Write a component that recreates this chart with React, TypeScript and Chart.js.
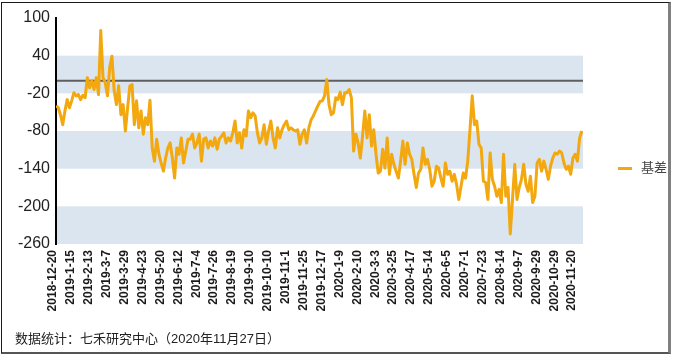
import React, { useEffect, useRef } from 'react';
import { Chart, registerables } from 'chart.js';

Chart.register(...registerables);

// Tick labels on the x axis (one every POINTS_PER_TICK samples)
const tickLabels = [
  '2018-12-20', '2019-1-15', '2019-2-13', '2019-3-7', '2019-3-29', '2019-4-23',
  '2019-5-20', '2019-6-12', '2019-7-4', '2019-7-26', '2019-8-19', '2019-9-10',
  '2019-10-10', '2019-11-1', '2019-11-25', '2019-12-17', '2020-1-9', '2020-2-10',
  '2020-3-3', '2020-3-25', '2020-4-17', '2020-5-14', '2020-6-5', '2020-7-1',
  '2020-7-23', '2020-8-14', '2020-9-7', '2020-9-29', '2020-10-29', '2020-11-20',
];
const POINTS_PER_TICK = 8;

// 基差 series (sampled roughly every two trading days)
const basis = [
  -40, -43, -54, -70, -48, -30, -43, -32, -19, -24,
  -22, -30, -23, -27, 5, -11, 0, -14, 5, -22,
  80, 5, -3, -24, 21, 39, -16, -38, -8, -54,
  -38, -80, -43, -8, -6, -70, -32, -75, -48, -85,
  -59, -70, -31, -107, -128, -93, -117, -131, -144, -123,
  -107, -99, -123, -155, -107, -117, -91, -131, -112, -93,
  -93, -85, -107, -99, -85, -128, -93, -91, -107, -96,
  -104, -91, -109, -93, -88, -83, -99, -91, -96, -83,
  -64, -99, -83, -107, -78, -88, -48, -59, -51, -56,
  -83, -99, -91, -70, -101, -80, -64, -91, -107, -75,
  -91, -78, -70, -64, -78, -75, -78, -80, -78, -101,
  -85, -78, -99, -75, -62, -56, -48, -40, -33, -32,
  -24, 2, -38, -54, -51, -27, -30, -18, -38, -19,
  -19, -14, -27, -112, -85, -99, -123, -88, -48, -91,
  -54, -104, -78, -117, -147, -144, -109, -139, -91, -149,
  -117, -133, -144, -155, -128, -96, -133, -99, -117, -125,
  -149, -170, -147, -141, -107, -133, -125, -141, -168, -160,
  -136, -139, -155, -168, -131, -149, -144, -160, -149, -165,
  -189, -168, -147, -155, -128, -78, -24, -70, -64, -101,
  -107, -160, -162, -189, -115, -157, -168, -184, -173, -194,
  -117, -184, -170, -244, -189, -133, -189, -170, -157, -133,
  -165, -176, -152, -194, -184, -131, -125, -144, -128, -141,
  -157, -136, -123, -115, -117, -112, -115, -131, -141, -136,
  -149, -123, -117, -128, -91, -80,
];

const yTicks = [100, 40, -20, -80, -140, -200, -260];
const bandRanges: [number, number][] = [[40, -20], [-80, -140], [-200, -260]];
const seriesName = '基差';
const footerText = '数据统计：七禾研究中心（2020年11月27日）';

const LINE_COLOR = '#F2A80E';
const BAND_COLOR = '#DAE5F0';
const FONT = '"Liberation Sans", Arial, "Noto Sans CJK SC", sans-serif';

const bandPlugin = {
  id: 'bands',
  beforeDraw(chart: any) {
    const { ctx, chartArea, scales } = chart;
    const y = scales.y;
    ctx.save();
    ctx.fillStyle = BAND_COLOR;
    for (const [a, b] of bandRanges) {
      const y1 = y.getPixelForValue(a);
      const y2 = y.getPixelForValue(b);
      ctx.fillRect(chartArea.left, y1, chartArea.right - chartArea.left, y2 - y1);
    }
    const y0 = y.getPixelForValue(0);
    ctx.strokeStyle = '#5f5f5f';
    ctx.lineWidth = 2;
    ctx.beginPath();
    ctx.moveTo(chartArea.left, y0);
    ctx.lineTo(chartArea.right, y0);
    ctx.stroke();
    ctx.restore();
  },
};

export default function App() {
  const canvasRef = useRef<HTMLCanvasElement | null>(null);

  useEffect(() => {
    if (!canvasRef.current) return;
    const chart = new Chart(canvasRef.current, {
      type: 'line',
      data: {
        datasets: [
          {
            label: seriesName,
            data: basis.map((v, i) => ({ x: i, y: v })),
            borderColor: LINE_COLOR,
            backgroundColor: LINE_COLOR,
            borderWidth: 3,
            pointRadius: 0,
            tension: 0,
            borderJoinStyle: 'round',
          },
        ],
      },
      options: {
        responsive: false,
        animation: false,
        devicePixelRatio: 1,
        layout: { padding: { top: 18, right: 91, left: 0, bottom: 0 } },
        plugins: {
          legend: { display: false },
          tooltip: { enabled: false },
        },
        scales: {
          x: {
            type: 'linear',
            min: 0,
            max: basis.length - 0.5,
            grid: { display: false, drawTicks: false },
            border: { display: false },
            afterBuildTicks: (s: any) => {
              s.ticks = tickLabels.map((_, k) => ({ value: k * POINTS_PER_TICK }));
            },
            afterFit: (s: any) => {
              s.height = 113;
            },
            ticks: {
              autoSkip: false,
              minRotation: 90,
              maxRotation: 90,
              padding: 6,
              labelOffset: -3,
              color: '#1a1a1a',
              font: { family: FONT, size: 12, weight: 'bold' },
              callback: (_v: any, index: number) => tickLabels[index] ?? '',
            },
          },
          y: {
            min: -260,
            max: 100,
            grid: { display: false, drawTicks: false },
            border: { display: true, color: '#000', width: 2 },
            afterBuildTicks: (s: any) => {
              s.ticks = yTicks.map((v) => ({ value: v }));
            },
            afterFit: (s: any) => {
              s.width = 56;
            },
            ticks: {
              padding: 6,
              color: '#222',
              font: { family: FONT, size: 16 },
            },
          },
        },
      },
      plugins: [bandPlugin],
    });
    return () => chart.destroy();
  }, []);

  return (
    <div
      style={{
        position: 'fixed',
        left: 0,
        top: 0,
        width: 674,
        height: 357,
        background: '#fff',
        overflow: 'hidden',
      }}
    >
      <canvas
        ref={canvasRef}
        width={674}
        height={357}
        style={{ position: 'absolute', left: 0, top: 0, width: 674, height: 357 }}
      />
      <div
        style={{
          position: 'absolute',
          left: 1,
          top: 2,
          width: 666,
          height: 349,
          borderTop: '1px solid #1a1a1a',
          borderLeft: '1px solid #1a1a1a',
          borderBottom: '2px solid #555',
          borderRight: '3px solid #808080',
          pointerEvents: 'none',
        }}
      />
      <div
        style={{
          position: 'absolute',
          left: 618,
          top: 167,
          width: 14,
          height: 3,
          background: LINE_COLOR,
        }}
      />
      <div
        style={{
          position: 'absolute',
          left: 641,
          top: 160,
          fontFamily: FONT,
          fontSize: 13,
          lineHeight: '16px',
          color: '#444',
          whiteSpace: 'nowrap',
        }}
      >
        {seriesName}
      </div>
      <div
        style={{
          position: 'absolute',
          left: 15,
          top: 330,
          fontFamily: FONT,
          fontSize: 13,
          lineHeight: '17px',
          color: '#222',
          whiteSpace: 'nowrap',
        }}
      >
        {footerText}
      </div>
    </div>
  );
}
